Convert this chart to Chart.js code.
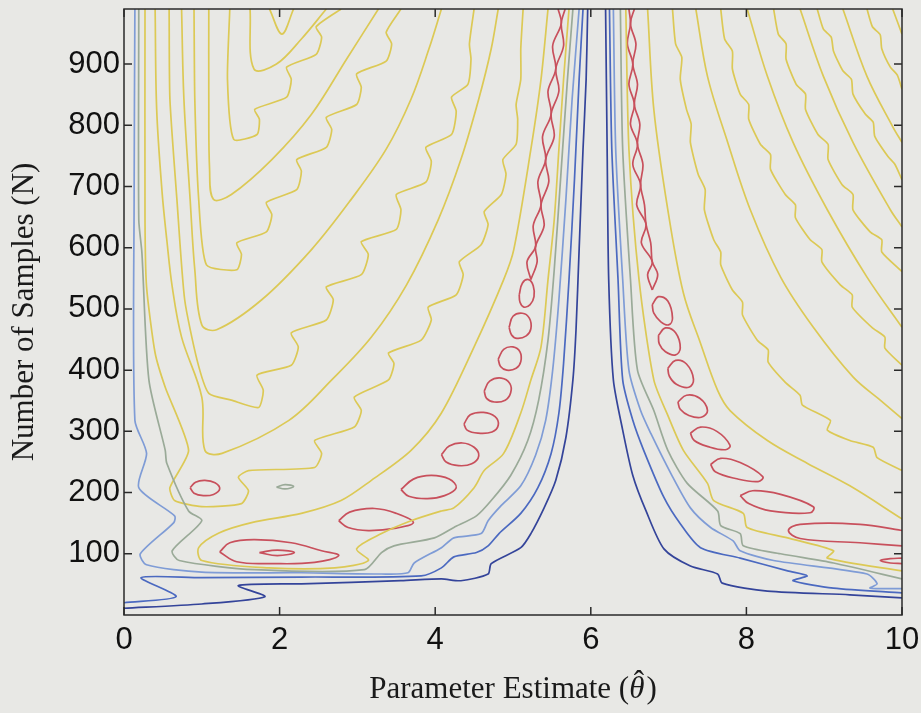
<!DOCTYPE html>
<html>
<head>
<meta charset="utf-8">
<script src="https://cdn.jsdelivr.net/npm/chart.js@4.4.0/dist/chart.umd.min.js"></script>
<style>
  html, body { margin: 0; padding: 0; background: #e8e8e5; }
  #wrap { width: 921px; height: 713px; }
</style>
</head>
<body>
<div id="wrap"><canvas id="chart" width="921" height="713"></canvas></div>
<script>
// axis ticks
const xTicks = [0, 2, 4, 6, 8, 10];
const yTicks = [100, 200, 300, 400, 500, 600, 700, 800, 900];

// contour lines, [theta, N] pairs
// left of the cusp
const navyLeft = [[0,11],[1.0,18],[1.81,30],[1.47,48],[2.28,51],[3.56,56],[4.08,59],[4.33,56],[4.68,67],[4.72,84],[5.10,110],[5.23,133],[5.40,175],[5.55,220],[5.68,290],[5.77,384],[5.81,466],[5.85,597],[5.90,761],[5.94,875],[5.96,990]];
const blueLeft = [[0,20],[0.67,30],[0.22,61],[1.0,61],[2.28,62],[3.82,64],[4.08,77],[4.24,95],[4.53,102],[4.68,113],[4.82,133],[5.10,166],[5.32,208],[5.49,264],[5.59,330],[5.65,411],[5.72,548],[5.79,711],[5.85,875],[5.90,990]];
const lblueLeft = [[0.14,990],[0.13,679],[0.14,318],[0.29,264],[0.19,208],[0.65,162],[0.64,151],[0.21,100],[0.29,82],[1.0,70],[2.28,69],[3.31,67],[3.65,69],[3.73,85],[4.08,110],[4.24,126],[4.59,133],[4.68,154],[4.85,179],[5.10,211],[5.29,261],[5.42,318],[5.51,400],[5.59,515],[5.68,679],[5.76,843],[5.85,990]];
const greyLeft = [[0.19,990],[0.19,646],[0.23,592],[0.32,384],[0.53,269],[0.55,248],[0.83,170],[1.0,154],[0.62,105],[0.71,89],[1.68,74],[3.09,74],[3.31,102],[3.47,113],[3.99,126],[4.24,143],[4.53,162],[4.72,187],[4.97,228],[5.19,285],[5.33,351],[5.45,449],[5.53,564],[5.62,728],[5.70,875],[5.77,990]];
const greySmall = [[1.96,209],[2.07,213],[2.18,210],[2.07,206],[1.96,209]];

const yellowU = [[5.45,990],[5.36,875],[5.23,761],[5.01,597],[4.88,548],[4.50,438],[4.08,330],[3.69,269],[3.18,220],[2.79,187],[2.28,166],[1.64,151],[1.22,134],[0.96,110],[1.0,89],[1.86,77],[2.71,77],[3.14,89],[2.99,108],[3.31,133],[3.69,154],[4.08,170],[4.24,175],[4.50,208],[4.63,236],[4.88,264],[5.10,330],[5.23,384],[5.36,438],[5.45,548],[5.53,646],[5.59,761],[5.65,875],[5.72,990]];
const yellowQ = [[0.27,990],[0.27,646],[0.29,536],[0.40,428],[0.53,372],[0.83,269],[0.59,208],[0.65,187],[1.0,177],[1.51,182],[1.60,203],[1.47,225],[1.60,236],[2.45,241],[2.54,264],[2.45,285],[2.96,307],[3.05,334],[2.96,356],[3.40,384],[3.47,411],[3.40,428],[3.82,449],[3.95,482],[3.91,503],[4.27,523],[4.36,556],[4.31,577],[4.59,605],[4.68,638],[4.63,659],[4.85,687],[4.91,720],[4.87,744],[5.04,769],[5.06,810],[5.04,834],[5.10,875],[5.10,925],[5.13,990]];
const yellowP = [[0.40,990],[0.42,826],[0.49,690],[0.55,613],[0.62,536],[0.74,454],[1.0,356],[1.04,269],[1.26,264],[2.12,318],[2.67,384],[3.18,454],[3.63,539],[4.04,646],[4.33,744],[4.56,843],[4.72,925],[4.81,990]];
const yellowV3 = [[0.58,990],[0.59,843],[0.68,679],[0.78,515],[0.94,416],[1.09,362],[1.38,351],[1.73,339],[1.79,367],[1.71,392],[2.15,408],[2.24,438],[2.15,461],[2.60,482],[2.69,515],[2.60,536],[3.05,556],[3.14,589],[3.05,610],[3.50,630],[3.56,662],[3.50,687],[3.88,707],[3.95,741],[3.88,764],[4.21,785],[4.27,823],[4.21,846],[4.42,867],[4.46,908],[4.44,933],[4.50,990]];
const yellowV4 = [[0.74,990],[0.77,843],[0.85,679],[0.91,564],[1.0,474],[1.19,466],[1.77,515],[2.41,597],[2.92,679],[3.37,761],[3.69,843],[3.92,925],[4.08,990]];
const yellowV5 = [[0.90,990],[0.91,843],[0.96,679],[1.06,572],[1.45,564],[1.51,589],[1.45,608],[1.83,626],[1.90,654],[1.83,674],[2.22,695],[2.28,725],[2.22,744],[2.60,764],[2.67,793],[2.60,813],[2.99,834],[3.05,862],[2.99,884],[3.37,905],[3.44,933],[3.37,952],[3.56,990]];
const yellowV6 = [[1.09,990],[1.09,843],[1.10,728],[1.15,679],[1.38,687],[1.90,744],[2.41,818],[2.86,908],[3.27,990]];
const yellowV7 = [[1.36,990],[1.33,875],[1.41,777],[1.71,785],[1.74,810],[1.68,826],[2.09,846],[2.15,875],[2.09,895],[2.47,916],[2.54,944],[2.47,961],[2.79,990]];
const yellowV8 = [[1.62,990],[1.67,892],[1.96,900],[2.28,941],[2.60,990]];
const yellowV9 = [[1.87,990],[2.03,949],[2.18,990]];

const redL1 = [[0.85,208],[0.92,217],[1.04,220],[1.17,216],[1.23,206],[1.15,197],[1.02,195],[0.90,199],[0.85,208]];
const redL2 = [[1.23,103],[1.36,118],[1.68,123],[2.15,118],[2.54,105],[2.76,97],[2.45,86],[1.90,84],[1.45,87],[1.23,103]];
const redL2in = [[1.74,102],[1.97,106],[2.19,102],[1.97,97],[1.74,102]];
const redL3 = [[2.76,154],[2.90,168],[3.22,174],[3.50,166],[3.72,151],[3.50,142],[3.14,138],[2.88,143],[2.76,154]];
const redL4 = [[3.56,205],[3.72,222],[3.95,228],[4.18,222],[4.27,208],[4.12,195],[3.90,190],[3.66,194],[3.56,205]];
const redL5 = [[4.08,262],[4.18,276],[4.35,281],[4.50,274],[4.56,260],[4.47,247],[4.30,244],[4.14,250],[4.08,262]];
const redL6 = [[4.37,312],[4.45,327],[4.62,331],[4.77,324],[4.81,310],[4.73,299],[4.55,297],[4.41,302],[4.37,312]];
const redL7 = [[4.63,366],[4.70,382],[4.85,387],[4.96,378],[4.97,363],[4.90,351],[4.76,348],[4.66,354],[4.63,366]];
const redL8 = [[4.81,418],[4.88,434],[5.00,438],[5.09,430],[5.10,414],[5.04,403],[4.92,400],[4.84,406],[4.81,418]];
const redL9 = [[4.95,470],[5.00,488],[5.12,493],[5.21,485],[5.23,468],[5.17,456],[5.05,452],[4.98,458],[4.95,470]];
const redL10 = [[5.08,523],[5.12,542],[5.20,548],[5.26,538],[5.27,520],[5.22,507],[5.14,503],[5.09,511],[5.08,523]];
const redChainLa = [[5.23,548],[5.18,577],[5.29,602],[5.26,636],[5.36,670],[5.32,708],[5.42,744],[5.38,782],[5.49,818],[5.45,856],[5.55,892],[5.51,930],[5.62,966],[5.58,990]];
const redChainLb = [[5.23,548],[5.31,577],[5.29,602],[5.40,636],[5.36,670],[5.46,708],[5.42,744],[5.53,782],[5.49,818],[5.59,856],[5.55,892],[5.65,930],[5.62,966],[5.67,990]];

// right of the cusp
const navyRight = [[6.19,990],[6.21,761],[6.23,548],[6.29,384],[6.41,302],[6.54,228],[6.71,170],[6.94,108],[7.28,80],[7.63,67],[7.69,52],[8.27,39],[9.33,33],[10,28]];
const blueRight = [[6.24,990],[6.27,761],[6.35,548],[6.41,384],[6.54,318],[6.68,269],[6.94,192],[7.15,149],[7.41,110],[7.92,93],[8.53,72],[8.78,64],[8.60,56],[9.12,44],[10,36]];
const lblueRight = [[6.29,990],[6.32,761],[6.41,548],[6.49,400],[6.64,334],[6.77,297],[7.03,231],[7.28,175],[7.54,143],[7.83,121],[7.92,105],[8.35,89],[9.55,67],[9.68,51],[9.59,44],[10,43]];
const greyRight = [[6.38,990],[6.41,761],[6.51,548],[6.60,400],[6.81,334],[6.99,269],[7.24,215],[7.63,170],[7.67,146],[7.92,133],[7.96,113],[8.44,100],[9.12,85],[10,59]];
const yellowRight = [[6.45,990],[6.49,761],[6.62,548],[6.81,384],[6.99,326],[7.19,269],[7.50,215],[7.58,187],[7.96,166],[8.01,143],[8.53,126],[9.12,105],[9.04,93],[10,72]];

const redChainRa = [[6.79,531],[6.73,556],[6.79,577],[6.65,608],[6.71,638],[6.59,670],[6.64,703],[6.54,736],[6.60,769],[6.51,802],[6.56,834],[6.49,867],[6.54,900],[6.47,933],[6.51,966],[6.49,990]];
const redChainRb = [[6.79,531],[6.86,556],[6.79,577],[6.77,608],[6.71,638],[6.69,670],[6.64,703],[6.67,736],[6.60,769],[6.63,802],[6.56,834],[6.60,867],[6.54,900],[6.58,933],[6.51,966],[6.56,990]];
const redRa = [[6.79,507],[6.87,520],[6.99,513],[7.05,485],[7.0,474],[6.90,479],[6.81,493],[6.79,507]];
const redRb = [[6.87,457],[6.96,469],[7.09,461],[7.15,436],[7.09,425],[6.96,430],[6.88,443],[6.87,457]];
const redRc = [[6.99,403],[7.09,416],[7.23,410],[7.32,385],[7.26,372],[7.10,377],[7.01,390],[6.99,403]];
const redRd = [[7.12,348],[7.23,359],[7.40,354],[7.50,334],[7.42,323],[7.26,326],[7.15,336],[7.12,348]];
const redRe = [[7.28,297],[7.41,307],[7.62,300],[7.79,277],[7.73,270],[7.51,275],[7.33,285],[7.28,297]];
const redRf = [[7.54,246],[7.67,256],[7.92,249],[8.21,226],[8.15,218],[7.86,223],[7.60,234],[7.54,246]];
const redRg = [[7.92,195],[8.08,203],[8.44,197],[8.86,177],[8.82,167],[8.31,170],[8.03,182],[7.92,195]];
const redRh = [[10,138],[9.46,148],[8.69,148],[8.54,138],[8.69,125],[9.46,118],[10,113]];
const redRi = [[10,93],[9.85,92],[9.72,89],[9.85,85],[10,84]];

const yellowR1 = [[6.73,990],[6.81,826],[6.99,662],[7.19,526],[7.41,444],[7.63,367],[7.79,334],[8.27,285],[8.78,248],[9.33,211],[10,157]];
const yellowR2 = [[7.05,990],[7.09,933],[7.17,911],[7.15,875],[7.23,826],[7.29,802],[7.28,772],[7.38,720],[7.47,695],[7.46,662],[7.58,613],[7.67,593],[7.67,572],[7.82,531],[7.95,511],[7.95,490],[8.14,449],[8.28,433],[8.28,413],[8.50,380],[8.69,359],[8.72,343],[9.08,318],[9.04,302],[9.33,285],[9.63,274],[9.68,257],[10,236]];
const yellowR3 = [[7.35,990],[7.50,880],[7.76,772],[8.05,662],[8.44,552],[8.86,470],[9.37,389],[9.72,351],[10,321]];
const yellowR4 = [[7.67,990],[7.72,941],[7.82,921],[7.82,892],[7.92,851],[8.03,834],[8.03,810],[8.18,769],[8.31,752],[8.31,728],[8.50,687],[8.63,670],[8.63,649],[8.82,613],[8.97,597],[8.97,577],[9.21,539],[9.36,523],[9.36,503],[9.62,469],[9.78,454],[9.78,436],[10,408]];
const yellowR5 = [[8.01,990],[8.27,880],[8.60,772],[9.04,662],[9.55,552],[10,470]];
const yellowR6 = [[8.35,990],[8.41,949],[8.51,933],[8.51,908],[8.64,867],[8.76,851],[8.76,826],[8.92,785],[9.05,769],[9.05,744],[9.23,703],[9.37,687],[9.37,662],[9.59,626],[9.74,613],[9.74,593],[10,561]];
const yellowR7 = [[8.69,990],[8.99,880],[9.37,772],[9.85,662],[10,634]];
const yellowR8 = [[8.91,990],[8.99,957],[9.09,944],[9.12,921],[9.24,889],[9.35,875],[9.37,851],[9.53,818],[9.63,805],[9.65,782],[9.82,749],[9.91,736],[10,711]];
const yellowR9 = [[9.24,990],[9.55,880],[9.88,798],[10,772]];
const yellowR10 = [[9.55,990],[9.62,961],[9.72,948],[9.74,925],[9.85,895],[9.94,882],[10,859]];
const yellowR11 = [[9.88,990],[10,949]];

const NAVY = '#34449a', BLUE = '#4b69c0', LBLUE = '#7f9cd6', GREY = '#9aaa98', YELLOW = '#dcc955', RED = '#c8505c';

const lines = [
  [navyLeft, NAVY, 0.25], [blueLeft, BLUE, 0.25], [lblueLeft, LBLUE, 0.25], [greyLeft, GREY, 0.25], [greySmall, GREY, 0.4],
  [yellowU, YELLOW, 0.3], [yellowQ, YELLOW, 0.2], [yellowP, YELLOW, 0.35], [yellowV3, YELLOW, 0.2], [yellowV4, YELLOW, 0.35],
  [yellowV5, YELLOW, 0.2], [yellowV6, YELLOW, 0.35], [yellowV7, YELLOW, 0.2], [yellowV8, YELLOW, 0.35], [yellowV9, YELLOW, 0.35],
  [redL1, RED, 0.4], [redL2, RED, 0.4], [redL2in, RED, 0.4], [redL3, RED, 0.4], [redL4, RED, 0.4], [redL5, RED, 0.4],
  [redL6, RED, 0.4], [redL7, RED, 0.4], [redL8, RED, 0.4], [redL9, RED, 0.4], [redL10, RED, 0.4],
  [redChainLa, RED, 0.35], [redChainLb, RED, 0.35],
  [navyRight, NAVY, 0.25], [blueRight, BLUE, 0.25], [lblueRight, LBLUE, 0.25], [greyRight, GREY, 0.25], [yellowRight, YELLOW, 0.25],
  [redChainRa, RED, 0.35], [redChainRb, RED, 0.35], [redRa, RED, 0.4], [redRb, RED, 0.4], [redRc, RED, 0.4], [redRd, RED, 0.4],
  [redRe, RED, 0.4], [redRf, RED, 0.4], [redRg, RED, 0.4], [redRh, RED, 0.4], [redRi, RED, 0.4],
  [yellowR1, YELLOW, 0.35], [yellowR2, YELLOW, 0.2], [yellowR3, YELLOW, 0.35], [yellowR4, YELLOW, 0.2], [yellowR5, YELLOW, 0.35],
  [yellowR6, YELLOW, 0.2], [yellowR7, YELLOW, 0.35], [yellowR8, YELLOW, 0.2], [yellowR9, YELLOW, 0.35], [yellowR10, YELLOW, 0.2],
  [yellowR11, YELLOW, 0.3]
];

const datasets = lines.map(([pts, color, tension]) => ({
  data: pts.map(p => ({ x: p[0], y: p[1] })),
  borderColor: color,
  borderWidth: 1.7,
  showLine: true,
  pointRadius: 0,
  tension: tension
}));

const serif = '"Liberation Serif", "DejaVu Serif", serif';

// page background
const paper = {
  id: 'paper',
  beforeDraw(chart) {
    const ctx = chart.ctx;
    ctx.save();
    ctx.fillStyle = '#e8e8e5';
    ctx.fillRect(0, 0, chart.width, chart.height);
    ctx.restore();
  }
};

// box, inward ticks on all four sides, and the x title with its hat
const frame = {
  id: 'frame',
  afterDraw(chart) {
    const { ctx, chartArea: a, scales: { x, y } } = chart;
    ctx.save();
    ctx.strokeStyle = '#2a2a2a';
    ctx.lineWidth = 1.5;
    ctx.strokeRect(a.left, a.top, a.right - a.left, a.bottom - a.top);
    ctx.beginPath();
    xTicks.forEach(v => {
      const px = x.getPixelForValue(v);
      ctx.moveTo(px, a.bottom); ctx.lineTo(px, a.bottom - 8);
      ctx.moveTo(px, a.top); ctx.lineTo(px, a.top + 8);
    });
    yTicks.forEach(v => {
      const py = y.getPixelForValue(v);
      ctx.moveTo(a.left, py); ctx.lineTo(a.left + 8, py);
      ctx.moveTo(a.right, py); ctx.lineTo(a.right - 8, py);
    });
    ctx.stroke();

    // "Parameter Estimate (θ̂)"
    const head = 'Parameter Estimate (', th = '\u03B8', tail = ')';
    const up = '31px ' + serif, it = 'italic 31px ' + serif;
    ctx.fillStyle = '#1a1a1a';
    ctx.textBaseline = 'alphabetic';
    ctx.font = up; const wHead = ctx.measureText(head).width, wTail = ctx.measureText(tail).width;
    ctx.font = it; const wTh = ctx.measureText(th).width;
    const total = wHead + wTh + wTail + 2;
    let cx = (a.left + a.right) / 2 - total / 2;
    const base = 698;
    ctx.font = up; ctx.textAlign = 'left'; ctx.fillText(head, cx, base); cx += wHead;
    ctx.font = it; ctx.fillText(th, cx, base);
    ctx.font = up; ctx.textAlign = 'center'; ctx.fillText('\u02C6', cx + wTh / 2 + 2, base - 6);
    ctx.textAlign = 'left'; ctx.fillText(tail, cx + wTh + 2, base);
    ctx.restore();
  }
};

const tickFont = { family: '"Liberation Sans", Arial, sans-serif', size: 31 };

new Chart(document.getElementById('chart'), {
  type: 'scatter',
  data: { datasets },
  options: {
    responsive: false,
    animation: false,
    events: [],
    layout: { padding: { top: 9, right: 19, left: 0, bottom: 0 } },
    plugins: { legend: { display: false }, tooltip: { enabled: false } },
    scales: {
      x: {
        type: 'linear', min: 0, max: 10,
        afterBuildTicks: s => { s.ticks = xTicks.map(v => ({ value: v })); },
        afterFit: s => { s.height = 98; s.paddingLeft = 0; s.paddingRight = 0; },
        grid: { display: false, drawTicks: false },
        border: { display: false },
        ticks: { color: '#111', font: tickFont, padding: 7, maxRotation: 0 },
        title: { display: false }
      },
      y: {
        type: 'linear', min: 0, max: 990,
        afterBuildTicks: s => { s.ticks = yTicks.map(v => ({ value: v })); },
        afterFit: s => { s.width = 124; s.paddingTop = 0; s.paddingBottom = 0; },
        grid: { display: false, drawTicks: false },
        border: { display: false },
        ticks: { color: '#111', font: tickFont, padding: 4 },
        title: { display: true, text: 'Number of Samples (N)', color: '#1a1a1a', font: { family: serif, size: 31 }, padding: { top: 6, bottom: 0 } }
      }
    }
  },
  plugins: [paper, frame]
});
</script>
</body>
</html>
